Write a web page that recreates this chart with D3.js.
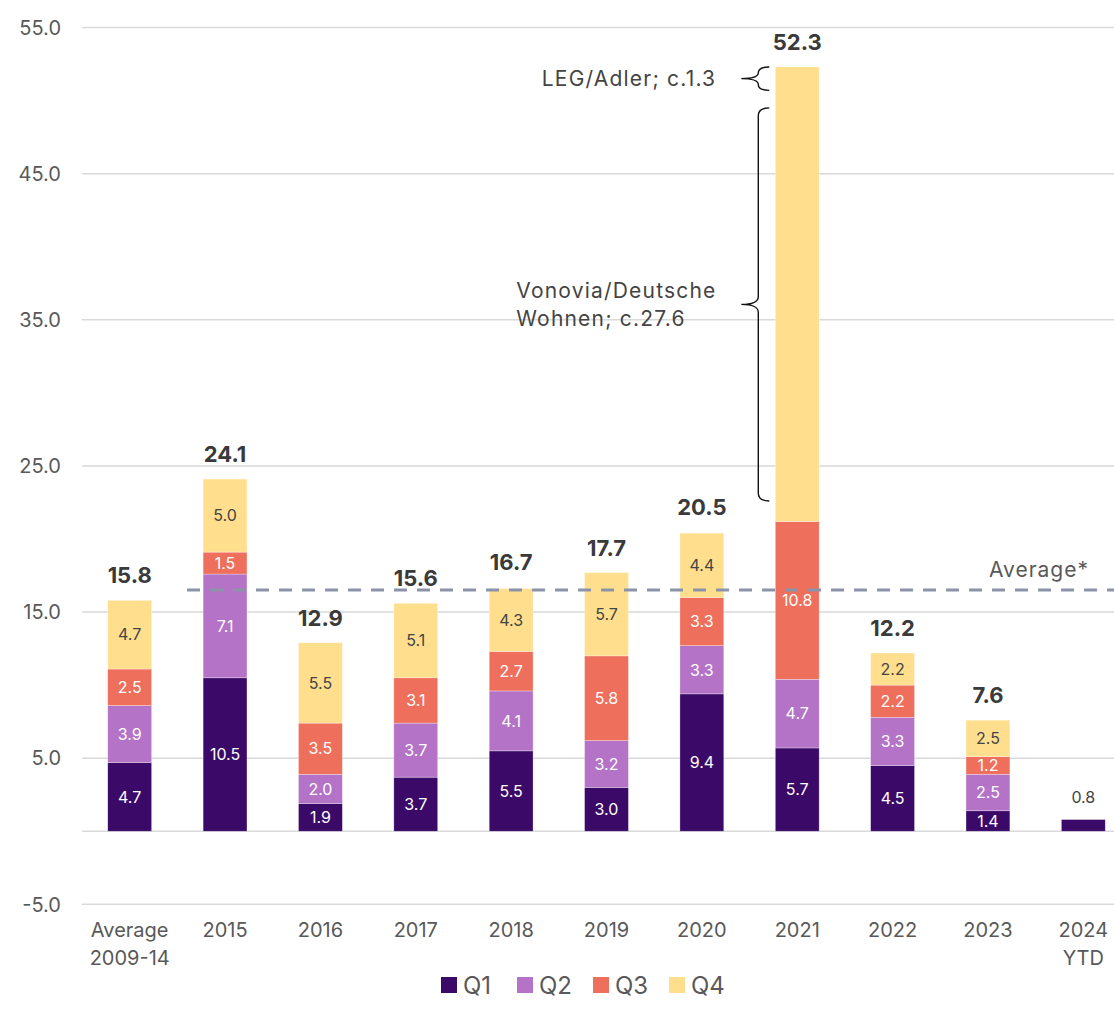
<!DOCTYPE html>
<html>
<head>
<meta charset="utf-8">
<script src="https://cdn.jsdelivr.net/npm/d3@7"></script>
<style>
  body { margin: 0; background: #fff; }
  #container { width: 1114px; height: 1024px; }
  text { font-family: Inter, "Noto Sans", sans-serif; }
</style>
</head>
<body>
<div id="container"></div>
<script>
//chart data
const categories = ["Average\n2009-14", "2015", "2016", "2017", "2018", "2019", "2020", "2021", "2022", "2023", "2024\nYTD"]
const q1 = [4.7, 10.5, 1.9, 3.7, 5.5, 3.0, 9.4, 5.7, 4.5, 1.4, 0.8]
const q2 = [3.9, 7.1, 2.0, 3.7, 4.1, 3.2, 3.3, 4.7, 3.3, 2.5, 0]
const q3 = [2.5, 1.5, 3.5, 3.1, 2.7, 5.8, 3.3, 10.8, 2.2, 1.2, 0]
const q4 = [4.7, 5.0, 5.5, 5.1, 4.3, 5.7, 4.4, 31.1, 2.2, 2.5, 0]
const totals = [15.8, 24.1, 12.9, 15.6, 16.7, 17.7, 20.5, 52.3, 12.2, 7.6, null]
const yTicks = [-5, 5, 15, 25, 35, 45, 55]
const quarters = ["Q1", "Q2", "Q3", "Q4"]
const averageValue = 16.5
//segments whose label is left off (explained by the braces instead)
const hiddenLabels = [["2021", "Q4"]]
//brace annotations: [from, to] in chart values
const annotations = [
    {lines: ["LEG/Adler; c.1.3"], range: [50.7, 52.3], side: "end"},
    {lines: ["Vonovia/Deutsche", "Wohnen; c.27.6"], range: [22.6, 49.5], side: "start"}
]

const colors = {Q1: "#3b0a68", Q2: "#b473c6", Q3: "#ee6f5c", Q4: "#ffdf8e"}
const labelColors = {Q1: "#fff", Q2: "#fff", Q3: "#fff", Q4: "#444"}

const width = 1114
const height = 1024

//1 decimal, plain hyphen for negatives
const fmt = v => d3.format(".1f")(v).replace("\u2212", "-")

let svg = d3.select("#container")
    .append("svg")
    .attr("width", width)
    .attr("height", height)

//scales
let x = d3.scaleBand()
    .domain(categories)
    .range([82, 1131])
    .paddingInner(0.54)
    .paddingOuter(0.27)

let y = d3.scaleLinear()
    .domain([-5, 55])
    .range([904.3, 27.5])

//gridlines + y labels
let grid = svg.append("g")
grid.selectAll("line")
    .data(yTicks)
    .enter().append("line")
    .attr("x1", 82).attr("x2", width)
    .attr("y1", d => y(d)).attr("y2", d => y(d))
    .attr("stroke", "#d9d9d9")
    .attr("stroke-width", 1.5)

grid.selectAll("text")
    .data(yTicks)
    .enter().append("text")
    .attr("x", 61)
    .attr("y", d => y(d))
    .attr("dy", "0.36em")
    .attr("text-anchor", "end")
    .attr("font-size", 20)
    .attr("fill", "#595959")
    .text(fmt)

//zero axis line
svg.append("line")
    .attr("x1", 82).attr("x2", width)
    .attr("y1", y(0)).attr("y2", y(0))
    .attr("stroke", "#d9d9d9")
    .attr("stroke-width", 1.5)

//category labels
svg.append("g")
    .selectAll("text")
    .data(categories)
    .enter().append("text")
    .attr("x", d => x(d) + x.bandwidth() / 2)
    .attr("y", 937)
    .attr("text-anchor", "middle")
    .attr("font-size", 20)
    .attr("fill", "#595959")
    .each(function(d) {
        d.split("\n").forEach((line, i) => {
            d3.select(this).append("tspan")
                .attr("x", x(d) + x.bandwidth() / 2)
                .attr("dy", i ? 28 : 0)
                .text(line)
        })
    })

//stack the quarters
let rows = categories.map((c, i) => ({cat: c, Q1: q1[i], Q2: q2[i], Q3: q3[i], Q4: q4[i]}))
let series = d3.stack().keys(quarters)(rows)

let bars = svg.append("g")
series.forEach(s => {
    bars.append("g")
        .selectAll("rect")
        .data(s.filter(d => d[1] - d[0] > 0))
        .enter().append("rect")
        .attr("x", d => x(d.data.cat))
        .attr("width", x.bandwidth())
        .attr("y", d => y(d[1]))
        .attr("height", d => y(d[0]) - y(d[1]))
        .attr("fill", colors[s.key])
        .attr("stroke", "#fff")
        .attr("stroke-opacity", 0.5)
        .attr("stroke-width", 0.6)
})

//segment labels
let segLabels = svg.append("g")
series.forEach(s => {
    s.forEach(d => {
        const v = d[1] - d[0]
        if (v <= 0) return
        const cat = d.data.cat
        if (hiddenLabels.some(h => h[0] === cat && h[1] === s.key)) return
        const h = y(d[0]) - y(d[1])
        const small = h < 16
        segLabels.append("text")
            .attr("x", x(cat) + x.bandwidth() / 2)
            .attr("y", small ? y(d[1]) - 17 : (y(d[0]) + y(d[1])) / 2)
            .attr("dy", small ? 0 : "0.36em")
            .attr("text-anchor", "middle")
            .attr("font-size", 16)
            .attr("fill", small ? "#444" : labelColors[s.key])
            .text(fmt(v))
    })
})

//totals above bars
svg.append("g")
    .selectAll("text")
    .data(categories.filter((c, i) => totals[i] != null))
    .enter().append("text")
    .attr("x", d => x(d) + x.bandwidth() / 2)
    .attr("y", d => y(totals[categories.indexOf(d)]) - 17)
    .attr("text-anchor", "middle")
    .attr("font-size", 22)
    .attr("font-weight", 700)
    .attr("fill", "#3a3a3a")
    .text(d => fmt(totals[categories.indexOf(d)]))

//average line
svg.append("line")
    .attr("x1", x(categories[1]) + x.bandwidth() / 2 - 38)
    .attr("x2", width)
    .attr("y1", y(averageValue)).attr("y2", y(averageValue))
    .attr("stroke", "#8a93a8")
    .attr("stroke-width", 3)
    .attr("stroke-dasharray", "13,10")

svg.append("text")
    .attr("x", 1089)
    .attr("y", y(averageValue) - 13)
    .attr("text-anchor", "end")
    .attr("font-size", 21)
    .attr("letter-spacing", 1)
    .attr("fill", "#595959")
    .text("Average*")

//brace annotations for 2021
const braceX = x("2021") - 17
function bracePath(xv, yTop, yBot) {
    const xr = xv + 11
    const xt = xv - 17
    const yMid = (yTop + yBot) / 2
    const r = Math.min(8, (yBot - yTop) / 4)
    return `M${xr},${yTop} Q${xv},${yTop} ${xv},${yTop + r}` +
        ` L${xv},${yMid - r} Q${xv},${yMid} ${xt},${yMid}` +
        ` Q${xv},${yMid} ${xv},${yMid + r}` +
        ` L${xv},${yBot - r} Q${xv},${yBot} ${xr},${yBot}`
}

annotations.forEach(a => {
    const yTop = y(a.range[1])
    const yBot = y(a.range[0])
    const yMid = (yTop + yBot) / 2
    svg.append("path")
        .attr("d", bracePath(braceX, yTop, yBot))
        .attr("fill", "none")
        .attr("stroke", "#111")
        .attr("stroke-width", 1.4)

    let t = svg.append("text")
        .attr("font-size", 21)
        .attr("letter-spacing", 1.2)
        .attr("fill", "#444")
        .attr("text-anchor", a.side)
    const tx = a.side === "end" ? braceX - 42 : braceX - 242
    a.lines.forEach((line, i) => {
        t.append("tspan")
            .attr("x", tx)
            .attr("y", yMid + (i - (a.lines.length - 1) / 2) * 28)
            .attr("dy", "0.36em")
            .text(line)
    })
})

//legend
let legend = svg.append("g")
quarters.forEach((q, i) => {
    const lx = 441 + i * 76
    legend.append("rect")
        .attr("x", lx).attr("y", 977)
        .attr("width", 16).attr("height", 16)
        .attr("fill", colors[q])
    legend.append("text")
        .attr("x", lx + 22).attr("y", 985)
        .attr("dy", "0.36em")
        .attr("font-size", 24)
        .attr("fill", "#595959")
        .text(q)
})
</script>
</body>
</html>
